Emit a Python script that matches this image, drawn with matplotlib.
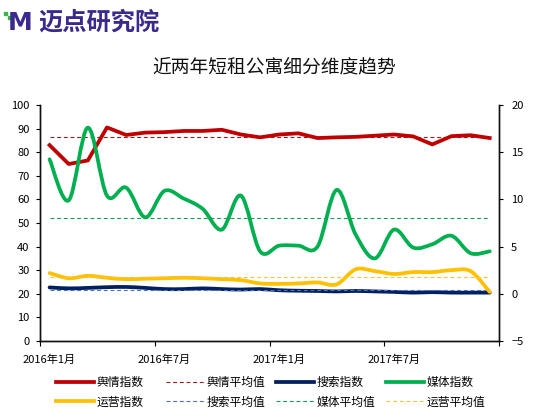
import numpy as np
import matplotlib
matplotlib.use("Agg")
import matplotlib.pyplot as plt
from matplotlib.path import Path
from matplotlib.patches import PathPatch, Rectangle
from matplotlib.lines import Line2D

plt.rcParams['font.family'] = ['Noto Sans CJK SC', 'DejaVu Sans']

# 2016年1月 .. 2017年12月, one point per month
months = list(range(24))
tick_labels = ['2016年1月', '2016年7月', '2017年1月', '2017年7月']

# left axis
yuqing = [83, 75, 76.5, 90.5, 87.3, 88.3, 88.5, 89, 89, 89.5, 87.5, 86.3,
          87.5, 88, 86, 86.3, 86.5, 87, 87.5, 86.7, 83.3, 86.8, 87.2, 86]
sousuo = [22.7, 22.3, 22.5, 22.8, 22.9, 22.5, 22, 22, 22.3, 22, 21.8, 22,
          21.5, 21.3, 21.2, 21, 21.2, 21, 20.8, 20.5, 20.7, 20.5, 20.5, 20.5]
# right axis
meiti = [14.25, 9.9, 17.6, 10.4, 11.25, 8.1, 10.9, 10.1, 9.0, 6.8, 10.4, 4.5,
         5.1, 5.1, 5.0, 11.0, 6.25, 3.75, 6.8, 4.9, 5.25, 6.15, 4.3, 4.5]
yunying = [2.2, 1.65, 1.9, 1.7, 1.55, 1.6, 1.65, 1.7, 1.65, 1.55, 1.45, 1.1,
           1.05, 1.1, 1.2, 1.0, 2.6, 2.4, 2.1, 2.3, 2.3, 2.5, 2.4, 0.2]

# average lines
yuqing_avg = 86.3
sousuo_avg = 21.6
meiti_avg = 8.0
yunying_avg = 1.8

RED, NAVY, GREEN, GOLD = '#C00000', '#002060', '#00B050', '#FFC000'


def smooth_path(x, y):
    # Excel style smoothed line: cubic bezier through every point
    n = len(x)
    verts = [(x[0], y[0])]
    codes = [Path.MOVETO]
    for i in range(n - 1):
        xp, yp = (x[i - 1], y[i - 1]) if i > 0 else (x[i], y[i])
        xn, yn = (x[i + 2], y[i + 2]) if i + 2 < n else (x[i + 1], y[i + 1])
        c1 = (x[i] + (x[i + 1] - xp) / 6, y[i] + (y[i + 1] - yp) / 6)
        c2 = (x[i + 1] - (xn - x[i]) / 6, y[i + 1] - (yn - y[i]) / 6)
        verts += [c1, c2, (x[i + 1], y[i + 1])]
        codes += [Path.CURVE4] * 3
    return Path(verts, codes)


def smooth(ax, y, color, lw=2.7):
    p = PathPatch(smooth_path(months, y), fill=False, edgecolor=color,
                  lw=lw, capstyle='round', joinstyle='round')
    ax.add_patch(p)


fig = plt.figure(figsize=(5.56, 4.18), dpi=100)
ax = fig.add_axes([40 / 556, 1 - 341 / 418, 459.3 / 556, 236 / 418])
ax2 = ax.twinx()

dash = (0, (3.5, 2.5))
ax.plot(months, [yuqing_avg] * 24, color='#9B1B1B', lw=0.8, ls=dash)
ax.plot(months, [sousuo_avg] * 24, color='#4A72B8', lw=0.8, ls=dash)
ax.plot(months, yuqing, color=RED, lw=2.7, solid_joinstyle='round')
smooth(ax, sousuo, NAVY)

ax2.plot(months, [meiti_avg] * 24, color='#1E9A55', lw=0.8, ls=dash)
ax2.plot(months, [yunying_avg] * 24, color='#F5C242', lw=0.8, ls=dash)
smooth(ax2, yunying, GOLD)
smooth(ax2, meiti, GREEN)

ax.set_xlim(-0.5, 23.5)
ax.set_ylim(0, 100)
ax.set_yticks(range(0, 101, 10))
ax2.set_ylim(-5, 20)
ax2.set_yticks(range(-5, 21, 5))

ax.set_xticks([-0.5, 5.5, 11.5, 17.5, 23.5])
ax.set_xticklabels([])
ax.set_xticks([0, 6, 12, 18], minor=True)
ax.set_xticklabels(tick_labels, minor=True)
ax.tick_params(axis='x', which='minor', length=0, pad=10, labelsize=8)
ax.tick_params(axis='x', which='major', length=3.5, direction='out')
ax.tick_params(axis='y', length=3, pad=4.5, labelsize=8)
ax2.tick_params(axis='y', length=3, pad=5.5, labelsize=8)

for a in (ax, ax2):
    a.spines['top'].set_visible(False)
    for s in ('left', 'right', 'bottom'):
        a.spines[s].set_linewidth(1.0)
        a.spines[s].set_color('#111111')

# legend, four fixed-width columns like the original
cols = [
    [('舆情指数', RED, 2.7, '-'), ('运营指数', GOLD, 2.7, '-')],
    [('舆情平均值', '#9B1B1B', 0.8, dash), ('搜索平均值', '#4A72B8', 0.8, dash)],
    [('搜索指数', NAVY, 2.7, '-'), ('媒体平均值', '#1E9A55', 0.8, dash)],
    [('媒体指数', GREEN, 2.7, '-'), ('运营平均值', '#F5C242', 0.8, dash)],
]
for k, col in enumerate(cols):
    handles = [Line2D([], [], color=c, lw=w, ls=s) for _, c, w, s in col]
    leg = fig.legend(handles, [t for t, *_ in col], loc='upper left',
                     bbox_to_anchor=((56 + 110 * k) / 556, 1 - 376 / 418),
                     frameon=False, fontsize=8.5, handlelength=3.2,
                     handletextpad=0.25, labelspacing=0.55, borderpad=0,
                     borderaxespad=0)

fig.text(0.493, 1 - 67 / 418, '近两年短租公寓细分维度趋势', ha='center',
         va='center', fontsize=13.5, color='#111111')

# logo
fig.text(8 / 556, 1 - 23 / 418, 'M', fontsize=18, fontweight='heavy',
         color='#3B2A8E', va='center', family='DejaVu Sans')
fig.text(38 / 556, 1 - 23 / 418, '迈点研究院', fontsize=17.5, fontweight='bold',
         color='#3B2A8E', va='center')
for (px, py) in [(4, 15), (8, 19)]:
    fig.add_artist(Rectangle((px / 556, 1 - py / 418), 3 / 556, 3 / 418,
                             color='#39B54A', transform=fig.transFigure))

fig.savefig('out.png', dpi=100)
